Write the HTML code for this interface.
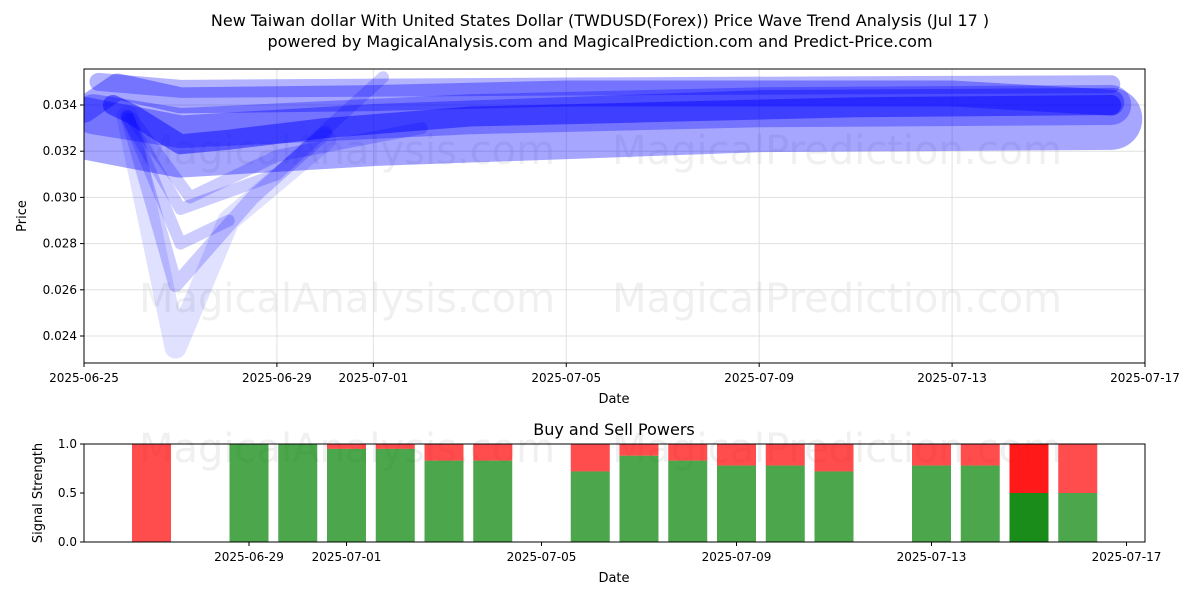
<!DOCTYPE html>
<html><head><meta charset="utf-8"><style>
body{margin:0;background:#fff;font-family:"Liberation Sans","DejaVu Sans",sans-serif}
svg text{font-family:"DejaVu Sans","Liberation Sans",sans-serif}
</style></head><body>
<svg id="c" width="1200" height="600" xmlns="http://www.w3.org/2000/svg">
<text x="600" y="26" font-size="16" text-anchor="middle">New Taiwan dollar With United States Dollar (TWDUSD(Forex)) Price Wave Trend Analysis (Jul 17 )</text>
<text x="600" y="47" font-size="16" text-anchor="middle">powered by MagicalAnalysis.com and MagicalPrediction.com and Predict-Price.com</text>
<g id="topg"></g>
<g id="botg"></g>
</svg>
<script>
const waveDays=[[0,0.7,2,6,10,14,18,21.3],[0,2,6,10,14,21.3],[0.6,1,2,3,5,8,12,16,21.3],[0.9,1.9,3,5],[0.9,1.9,3.5,5],[0.9,2,3],[0.9,2,4,6.2],[1,2.2,4,7],[0.3,2,10,21.3],[0.2,2,8,14,21.3]];
const waveVals=[[0.0338,0.0348,0.0342,0.0343,0.0345,0.0345,0.0345,0.0341],[0.0330,0.0322,0.0327,0.0330,0.0333,0.0334],[0.0340,0.0336,0.0323,0.0325,0.0330,0.0335,0.0337,0.0339,0.0340],[0.0335,0.0235,0.0290,0.0325],[0.0335,0.0262,0.0300,0.0328],[0.0335,0.0280,0.0290],[0.0334,0.0295,0.0310,0.0352],[0.0334,0.0300,0.0318,0.0330],[0.0350,0.0347,0.0348,0.0349],[0.0336,0.0330,0.0336,0.0339,0.0340]];
const waveW=[26,62,20,22,14,12,12,12,18,40];
const waveOp=[0.35,0.35,0.45,0.12,0.2,0.2,0.2,0.2,0.3,0.3];
const yTicks=[0.024,0.026,0.028,0.030,0.032,0.034];
const xTickDays=[0,4,6,10,14,18,22];
const xTickLabels=["2025-06-25","2025-06-29","2025-07-01","2025-07-05","2025-07-09","2025-07-13","2025-07-17"];
const barDays=[2,4,5,6,7,8,9,11,12,13,14,15,16,18,19,20,21];
const buyVals=[0,1,1,0.95,0.95,0.83,0.83,0.72,0.88,0.83,0.78,0.78,0.72,0.78,0.78,0.5,0.5];
const botTickDays=[4,6,10,14,18,22];
const botTickLabels=["2025-06-29","2025-07-01","2025-07-05","2025-07-09","2025-07-13","2025-07-17"];
const NS="http://www.w3.org/2000/svg";
function mk(p,t,a){const e=document.createElementNS(NS,t);for(const k in a)e.setAttribute(k,a[k]);p.appendChild(e);return e;}
const gTop=document.getElementById('topg'),gBot=document.getElementById('botg');
const L=84,R=1145,T=69,B=363;
const x=d=>L+d*(R-L)/22;
const y=v=>105+(0.034-v)/0.002*46.2;
yTicks.forEach(v=>{const g=mk(gTop,'line',{x1:L,x2:R,y1:y(v),y2:y(v),stroke:'#e0e0e0','stroke-width':1});
const t=mk(gTop,'text',{x:L-7,y:y(v)+4,'font-size':12,'text-anchor':'end'});t.textContent=v.toFixed(3);
mk(gTop,'line',{x1:L-4,x2:L,y1:y(v),y2:y(v),stroke:'#000'});});
xTickDays.forEach((d,i)=>{const g=mk(gTop,'line',{x1:x(d),x2:x(d),y1:T,y2:B,stroke:'#e0e0e0'});
mk(gTop,'line',{x1:x(d),x2:x(d),y1:B,y2:B+4,stroke:'#000'});
const t=mk(gTop,'text',{x:x(d),y:B+19,'font-size':12,'text-anchor':'middle'});t.textContent=xTickLabels[i];});
[[347,150],[837,150],[347,298],[837,298],[347,448],[837,448]].forEach(p=>{const t=mk(gTop,'text',{x:p[0],y:p[1]+14,'font-size':40,'text-anchor':'middle',fill:'#ccc','fill-opacity':0.3});t.textContent=p[0]<500?'MagicalAnalysis.com':'MagicalPrediction.com';});
const cp=mk(gTop,'clipPath',{id:'cl'});mk(cp,'rect',{x:L,y:T,width:R-L,height:B-T});
const wg=mk(gTop,'g',{'clip-path':'url(#cl)'});
waveDays.forEach((ds,i)=>{const pts=ds.map((d,j)=>x(d)+','+y(waveVals[i][j])).join(' ');
const pl=mk(wg,'polyline',{points:pts,fill:'none',stroke:'#0000ff','stroke-opacity':waveOp[i],'stroke-width':waveW[i],'stroke-linecap':'round','stroke-linejoin':'round'});

});
mk(gTop,'rect',{x:L,y:T,width:R-L,height:B-T,fill:'none',stroke:'#000'});
let t=mk(gTop,'text',{x:614,y:403,'font-size':13,'text-anchor':'middle'});t.textContent='Date';
t=mk(gTop,'text',{x:26,y:216,'font-size':13,'text-anchor':'middle',transform:'rotate(-90 26 216)'});t.textContent='Price';
const BT=444,BB=542;
const bx=d=>54+d*48.75;
const by=v=>BB-v*(BB-BT);
t=mk(gBot,'text',{x:614,y:435,'font-size':16,'text-anchor':'middle'});t.textContent='Buy and Sell Powers';
barDays.forEach((d,i)=>{const b=buyVals[i];const dark=i===15;
const r=mk(gBot,'rect',{x:bx(d)-19.5,y:BT,width:39,height:by(b)-BT,fill:'#ff0000','fill-opacity':dark?0.9:0.7});
const g=mk(gBot,'rect',{x:bx(d)-19.5,y:by(b),width:39,height:BB-by(b),fill:'#008000','fill-opacity':dark?0.9:0.7});});
[0,0.5,1].forEach(v=>{mk(gBot,'line',{x1:L-4,x2:L,y1:by(v),y2:by(v),stroke:'#000'});const tt=mk(gBot,'text',{x:L-7,y:by(v)+4,'font-size':12,'text-anchor':'end'});tt.textContent=v.toFixed(1);});
botTickDays.forEach((d,i)=>{mk(gBot,'line',{x1:bx(d),x2:bx(d),y1:BB,y2:BB+4,stroke:'#000'});const tt=mk(gBot,'text',{x:bx(d),y:BB+19,'font-size':12,'text-anchor':'middle'});tt.textContent=botTickLabels[i];});
mk(gBot,'rect',{x:L,y:BT,width:R-L,height:BB-BT,fill:'none',stroke:'#000'});
t=mk(gBot,'text',{x:614,y:582,'font-size':13,'text-anchor':'middle'});t.textContent='Date';
t=mk(gBot,'text',{x:42,y:493,'font-size':13,'text-anchor':'middle',transform:'rotate(-90 42 493)'});t.textContent='Signal Strength';
</script>
</body></html>
